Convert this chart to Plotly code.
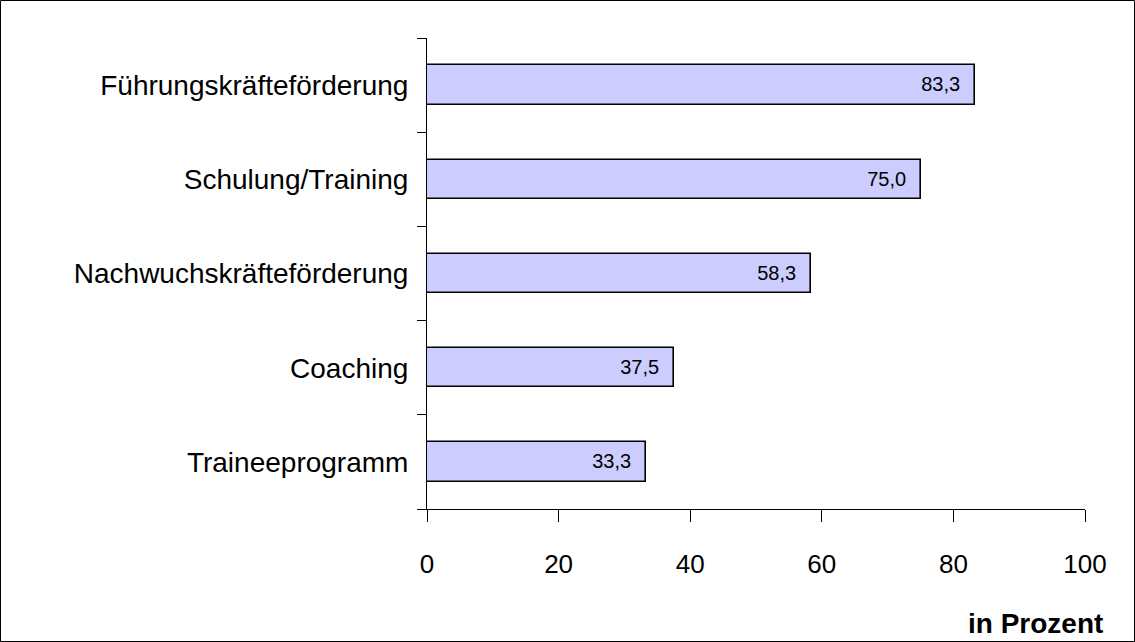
import plotly.graph_objects as go

categories = ["Traineeprogramm", "Coaching", "Nachwuchskräfteförderung",
              "Schulung/Training", "Führungskräfteförderung"]
values = [33.3, 37.5, 58.3, 75.0, 83.3]
value_labels = ["33,3", "37,5", "58,3", "75,0", "83,3"]
x_ticks = [0, 20, 40, 60, 80, 100]

W, H = 1135, 642
L, R, T, B = 427, 50, 38, 133
pw, ph = W - L - R, H - T - B

fig = go.Figure(go.Bar(
    x=values, y=categories, orientation="h",
    width=0.42,
    marker=dict(color="#CCCCFF", line=dict(color="black", width=1.6)),
    text=value_labels, texttemplate="%{text}\u00a0\u00a0",
    textposition="inside", insidetextanchor="end",
    textfont=dict(family="Liberation Sans, Arial, sans-serif", size=20, color="black"),
    cliponaxis=False,
))

fig.update_layout(
    width=W, height=H,
    margin=dict(l=L, r=R, t=T, b=B),
    paper_bgcolor="white", plot_bgcolor="white",
    font=dict(family="Liberation Sans, Arial, sans-serif", color="black"),
    showlegend=False,
    bargap=0,
)

fig.update_xaxes(
    range=[0, 100], tickvals=x_ticks, ticktext=[str(v) for v in x_ticks],
    showgrid=False, zeroline=False, showline=True, linecolor="black", linewidth=1,
    ticks="outside", ticklen=12, tickcolor="black", tickwidth=1,
    tickfont=dict(size=26), ticklabelstandoff=20,
)
fig.update_yaxes(
    type="category", categoryorder="array", categoryarray=categories,
    range=[-0.5, 4.5],
    showgrid=False, zeroline=False, showline=True, linecolor="black", linewidth=1,
    ticks="outside", ticklen=9, tickcolor="black", tickwidth=1, tickson="boundaries",
    tickfont=dict(size=28), ticklabelstandoff=12,
)

fig.add_annotation(
    text="<b>in Prozent</b>", xref="paper", yref="paper",
    x=(1105 - L) / pw, y=-(623 - (T + ph)) / ph,
    xanchor="right", yanchor="middle", showarrow=False,
    font=dict(size=28, color="black"),
)

fig.add_shape(
    type="rect", xref="paper", yref="paper",
    x0=(0.5 - L) / pw, x1=(W - 0.5 - L) / pw,
    y0=-(B - 0.5) / ph, y1=(ph + T - 0.5) / ph,
    line=dict(color="black", width=1), fillcolor="rgba(0,0,0,0)", layer="above",
)

fig.write_html(
    "out.html",
    config={"displayModeBar": False},
    post_script="document.body.style.margin='0';document.body.style.overflow='hidden';",
)
